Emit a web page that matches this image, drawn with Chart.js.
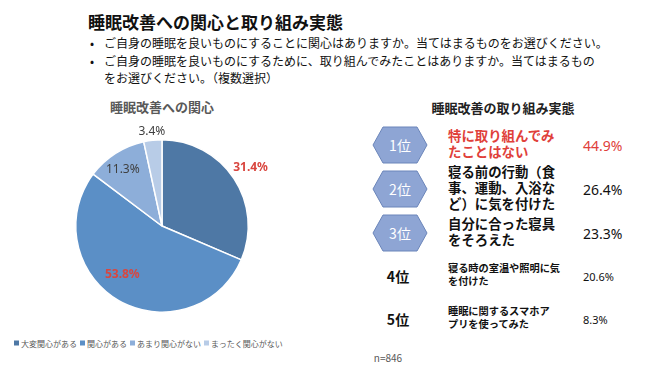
<!DOCTYPE html>
<html><head><meta charset="utf-8">
<script src="https://cdn.jsdelivr.net/npm/chart.js@4/dist/chart.umd.min.js"></script>
<style>
body{margin:0;width:650px;height:371px;background:#fff;font-family:"Noto Sans CJK JP","Noto Sans",sans-serif;position:relative;overflow:hidden;color:#111}
.abs{position:absolute;white-space:nowrap;transform:translateY(-50%)}
.ctr{transform:translate(-50%,-50%)}
</style></head>
<body>
<script>
// ---- data ----
const pieCategories = ['大変関心がある','関心がある','あまり関心がない','まったく関心がない'];
const pieValues = [31.4, 53.8, 11.3, 3.4];
const rankLabels = ['1位','2位','3位','4位','5位'];
const actionLines = [
  ['特に取り組んでみ','たことはない'],
  ['寝る前の行動（食','事、運動、入浴な','ど）に気を付けた'],
  ['自分に合った寝具','をそろえた'],
  ['寝る時の室温や照明に気','を付けた'],
  ['睡眠に関するスマホア','プリを使ってみた']
];
const actionValues = [44.9, 26.4, 23.3, 20.6, 8.3];
const sampleSize = 846;
const mainTitle = '睡眠改善への関心と取り組み実態';
const questions = ['ご自身の睡眠を良いものにすることに関心はありますか。当てはまるものをお選びください。',
  'ご自身の睡眠を良いものにするために、取り組んでみたことはありますか。当てはまるもの','をお選びください。（複数選択）'];
const pieTitle = '睡眠改善への関心';
const rankTitle = '睡眠改善の取り組み実態';
</script>

<div class="abs" style="left:88px;top:22px;font-size:17px;font-weight:bold;color:#111;line-height:20px" id="t"></div>
<div class="abs" style="left:90px;top:42px;font-size:12px">•</div>
<div class="abs" style="left:104px;top:42px;font-size:12px" id="q1"></div>
<div class="abs" style="left:90px;top:60px;font-size:12px">•</div>
<div class="abs" style="left:104px;top:60px;font-size:12px" id="q2"></div>
<div class="abs" style="left:104px;top:77px;font-size:12px" id="q3"></div>

<div class="abs ctr" style="left:162px;top:106px;font-size:13px;font-weight:bold;color:#595959" id="pt"></div>
<canvas id="pie" width="330" height="245" style="position:absolute;left:0;top:90px"></canvas>
<div id="legend" class="abs" style="left:14px;top:343px;font-size:8px;color:#595959;display:flex;align-items:center"></div>
<div class="abs ctr" style="left:388px;top:357px;font-size:10px;color:#595959" id="n"></div>

<div class="abs ctr" style="left:503px;top:107px;font-size:13px;font-weight:bold;color:#222" id="rt"></div>
<div id="ranks"></div>

<script>
document.getElementById('t').textContent = mainTitle;
document.getElementById('q1').textContent = questions[0];
document.getElementById('q2').textContent = questions[1];
document.getElementById('q3').textContent = questions[2];
document.getElementById('pt').textContent = pieTitle;
document.getElementById('rt').textContent = rankTitle;
document.getElementById('n').textContent = 'n=' + sampleSize;

const pieColors = ['#4E78A5','#5B8FC6','#8DAED9','#B8CCE7'];
const labelColors = ['#D9463F','#D9463F','#404040','#404040'];
const labelWeights = ['bold','bold','normal','normal'];
const labelRadius = [1.23, 0.73, 0.8, 1.1];
const labelAngleShift = [0, 9, -2, 0];

// legend
const lg = document.getElementById('legend');
pieCategories.forEach((c,i)=>{
  const sw = document.createElement('span');
  sw.style.cssText = 'display:inline-block;width:5px;height:5px;margin-right:2px;background:'+pieColors[i];
  const tx = document.createElement('span');
  tx.textContent = c; tx.style.marginRight = (i<pieCategories.length-1?'3px':'0');
  lg.appendChild(sw); lg.appendChild(tx);
});

const labelPlugin = {
  id:'pieLabels',
  afterDatasetsDraw(chart){
    const ctx = chart.ctx;
    const meta = chart.getDatasetMeta(0);
    meta.data.forEach((arc,i)=>{
      const mid = (arc.startAngle+arc.endAngle)/2 + labelAngleShift[i]*Math.PI/180;
      const r = arc.outerRadius*labelRadius[i];
      const x = arc.x + Math.cos(mid)*r, y = arc.y + Math.sin(mid)*r;
      ctx.save();
      ctx.font = labelWeights[i] + ' 12px "Noto Sans","Noto Sans CJK JP",sans-serif';
      ctx.fillStyle = labelColors[i];
      ctx.textAlign = 'center'; ctx.textBaseline = 'middle';
      ctx.fillText(pieValues[i].toFixed(1)+'%', x, y);
      ctx.restore();
    });
  }
};

new Chart(document.getElementById('pie'), {
  type:'pie',
  data:{labels:pieCategories, datasets:[{data:pieValues, backgroundColor:pieColors, borderColor:'#fff', borderWidth:1.5}]},
  options:{responsive:false, animation:false,
    layout:{padding:{left:75,right:81,top:49,bottom:22}},
    plugins:{legend:{display:false}, tooltip:{enabled:false}}},
  plugins:[labelPlugin]
});

// ranking list
const rowY = [145, 189, 233, 276, 319];
const hexCount = 3;
const rk = document.getElementById('ranks');
rankLabels.forEach((r,i)=>{
  const y = rowY[i];
  if (i < hexCount) {
    const svgNS='http://www.w3.org/2000/svg';
    const svg = document.createElementNS(svgNS,'svg');
    svg.setAttribute('width','56'); svg.setAttribute('height','38');
    svg.style.cssText = 'position:absolute;left:372px;top:'+(y-19)+'px';
    const p = document.createElementNS(svgNS,'polygon');
    p.setAttribute('points','1,19 11,1 45,1 55,19 45,37 11,37');
    p.setAttribute('fill','#8EA5D4'); p.setAttribute('stroke','#6B85BA'); p.setAttribute('stroke-width','1');
    svg.appendChild(p); rk.appendChild(svg);
    const d = document.createElement('div');
    d.className='abs ctr'; d.textContent=r;
    d.style.cssText='left:400px;top:'+y+'px;font-size:14px;color:#fff';
    rk.appendChild(d);
  } else {
    const d = document.createElement('div');
    d.className='abs ctr'; d.textContent=r;
    d.style.cssText='left:398px;top:'+y+'px;font-size:14px;font-weight:bold;color:#111';
    rk.appendChild(d);
  }
  const big = i < hexCount;
  const a = document.createElement('div');
  a.className='abs';
  a.innerHTML = actionLines[i].join('<br>');
  a.style.cssText='left:448px;top:'+(y-2)+'px;font-weight:bold;font-size:'+(big?'13.4px':'10.2px')+
    ';line-height:'+(big?'16px':'12.5px')+';color:'+(i===0?'#E0403A':'#111');
  rk.appendChild(a);
  const v = document.createElement('div');
  v.className='abs';
  v.textContent = actionValues[i].toFixed(1)+'%';
  v.style.cssText='left:583px;top:'+y+'px;font-family:"Noto Sans",sans-serif;font-size:'+(big?'14px':'11px')+
    ';font-weight:normal;color:'+(i===0?'#E0403A':'#111');
  rk.appendChild(v);
});
</script>
</body></html>
